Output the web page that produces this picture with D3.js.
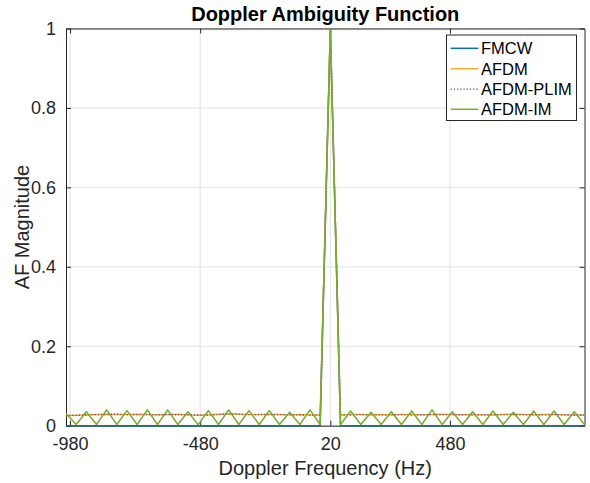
<!DOCTYPE html>
<html>
<head>
<meta charset="utf-8">
<script src="https://cdn.jsdelivr.net/npm/d3@7"></script>
<style>
  html, body { margin: 0; padding: 0; background: #fff; }
  svg { display: block; font-family: "Liberation Sans", Arial, Helvetica, sans-serif; }
</style>
</head>
<body>
<svg id="chart" width="590" height="483"></svg>
<script>
// ---------- data ----------
const dopplerHz = [
  -995.6, -956.6, -917.5, -878.4, -839.4, -800.3, -761.3, -722.2, -683.1, -644.1,
  -605.0, -565.9, -526.9, -487.8, -448.8, -409.7, -370.6, -331.6, -292.5, -253.4,
  -214.4, -175.3, -136.3, -97.2, -58.1, -19.1, 20.0, 59.1, 98.1, 137.2,
  176.3, 215.3, 254.4, 293.4, 332.5, 371.6, 410.6, 449.7, 488.8, 527.8,
  566.9, 605.9, 645.0, 684.1, 723.1, 762.2, 801.3, 840.3, 879.4, 918.4,
  957.5, 996.6
];
const fmcw = [
  0, 0, 0, 0, 0, 0, 0, 0, 0, 0,
  0, 0, 0, 0, 0, 0, 0, 0, 0, 0,
  0, 0, 0, 0, 0, 0, 1, 0, 0, 0,
  0, 0, 0, 0, 0, 0, 0, 0, 0, 0,
  0, 0, 0, 0, 0, 0, 0, 0, 0, 0,
  0, 0
];
const afdm = [
  0.025, 0.026, 0.027, 0.028, 0.029, 0.028, 0.028, 0.029, 0.028, 0.027,
  0.028, 0.029, 0.027, 0.026, 0.027, 0.029, 0.030, 0.029, 0.028, 0.028,
  0.029, 0.028, 0.027, 0.028, 0.027, 0.027, 1, 0.027, 0.028, 0.028,
  0.027, 0.028, 0.027, 0.028, 0.028, 0.027, 0.028, 0.029, 0.028, 0.027,
  0.028, 0.027, 0.027, 0.028, 0.029, 0.028, 0.027, 0.028, 0.028, 0.027,
  0.027, 0.026
];
const afdmPlim = [
  0.026, 0.026, 0.027, 0.028, 0.028, 0.029, 0.028, 0.028, 0.028, 0.028,
  0.028, 0.028, 0.028, 0.027, 0.027, 0.028, 0.029, 0.029, 0.028, 0.028,
  0.028, 0.028, 0.028, 0.027, 0.027, 0.027, 1, 0.027, 0.027, 0.028,
  0.028, 0.027, 0.028, 0.028, 0.027, 0.028, 0.028, 0.028, 0.028, 0.028,
  0.027, 0.028, 0.028, 0.028, 0.028, 0.028, 0.028, 0.027, 0.028, 0.028,
  0.027, 0.027
];
const afdmIm = [
  0.031, 0.003, 0.035, 0.003, 0.040, 0.003, 0.038, 0.003, 0.040, 0.003,
  0.040, 0.003, 0.035, 0.002, 0.038, 0.003, 0.040, 0.003, 0.038, 0.003,
  0.038, 0.003, 0.034, 0.003, 0.040, 0.003, 1, 0.003, 0.037, 0.003,
  0.034, 0.003, 0.035, 0.003, 0.037, 0.003, 0.040, 0.003, 0.035, 0.003,
  0.035, 0.003, 0.037, 0.003, 0.034, 0.003, 0.037, 0.003, 0.037, 0.003,
  0.035, 0.003
];
const seriesNames = ["FMCW", "AFDM", "AFDM-PLIM", "AFDM-IM"];
const seriesValues = [fmcw, afdm, afdmPlim, afdmIm];
const seriesColors = ["#0072BD", "#EDB120", "#7E2F8E", "#77AC30"];
const seriesDash = [null, null, "1.2,2", null];
const xTickValues = [-980, -480, 20, 480];
const xTickLabels = ["-980", "-480", "20", "480"];
const yTickValues = [0, 0.2, 0.4, 0.6, 0.8, 1];
const yTickLabels = ["0", "0.2", "0.4", "0.6", "0.8", "1"];
const titleText = "Doppler Ambiguity Function";
const xLabelText = "Doppler Frequency (Hz)";
const yLabelText = "AF Magnitude";

// ---------- layout ----------
const L = 66, R = 584.5, T = 28.5, B = 425.7;
const axisColor = "#262626";
const gridColor = "#e2e2e2";

const svg = d3.select("#chart");
const x = d3.scaleLinear().domain([dopplerHz[0], dopplerHz[dopplerHz.length - 1]]).range([L, R]);
const y = d3.scaleLinear().domain([0, 1]).range([B, T]);

// grid
const grid = svg.append("g");
grid.selectAll("line.gx").data(xTickValues).join("line")
  .attr("x1", d => x(d)).attr("x2", d => x(d)).attr("y1", T).attr("y2", B)
  .attr("stroke", gridColor).attr("stroke-width", 1);
grid.selectAll("line.gy").data(yTickValues).join("line")
  .attr("x1", L).attr("x2", R).attr("y1", d => y(d)).attr("y2", d => y(d))
  .attr("stroke", gridColor).attr("stroke-width", 1);

// axes
const tickLen = 5;
const xAxisB = d3.axisBottom(x).tickValues(xTickValues).tickSizeInner(-tickLen).tickSizeOuter(0).tickPadding(12)
  .tickFormat((d, i) => xTickLabels[i]);
const xAxisT = d3.axisTop(x).tickValues(xTickValues).tickSizeInner(-tickLen).tickSizeOuter(0).tickFormat("");
const yAxisL = d3.axisLeft(y).tickValues(yTickValues).tickSizeInner(-tickLen).tickSizeOuter(0).tickPadding(10)
  .tickFormat((d, i) => yTickLabels[i]);
const yAxisR = d3.axisRight(y).tickValues(yTickValues).tickSizeInner(-tickLen).tickSizeOuter(0).tickFormat("");

function styleAxis(g) {
  g.selectAll("path").attr("stroke", axisColor).attr("stroke-width", 1);
  g.selectAll("line").attr("stroke", axisColor).attr("stroke-width", 1);
  g.selectAll("text").attr("fill", axisColor).attr("font-size", 18)
    .attr("font-family", "'Liberation Sans', Arial, Helvetica, sans-serif");
}
svg.append("g").attr("transform", `translate(0,${B})`).call(xAxisB).call(styleAxis);
svg.append("g").attr("transform", `translate(0,${T})`).call(xAxisT).call(styleAxis);
svg.append("g").attr("transform", `translate(${L},0)`).call(yAxisL).call(styleAxis);
svg.append("g").attr("transform", `translate(${R},0)`).call(yAxisR).call(styleAxis);

// data lines
svg.append("clipPath").attr("id", "clip").append("rect")
  .attr("x", L).attr("y", T - 1).attr("width", R - L).attr("height", B - T + 2);
const line = d3.line().x(d => x(d[0])).y(d => y(d[1]));
const lines = svg.append("g").attr("clip-path", "url(#clip)");
seriesValues.forEach((vals, i) => {
  const pts = dopplerHz.map((f, j) => [f, vals[j]]);
  const p = lines.append("path").datum(pts)
    .attr("d", line).attr("fill", "none")
    .attr("stroke", seriesColors[i])
    .attr("stroke-width", i === 2 ? 1.3 : 1.5)
    .attr("stroke-linejoin", "round");
  if (seriesDash[i]) p.attr("stroke-dasharray", seriesDash[i]);
});

// title and labels
svg.append("text").attr("x", (L + R) / 2).attr("y", 21).attr("text-anchor", "middle")
  .attr("font-size", 20).attr("font-weight", "bold").attr("fill", "#000").text(titleText);
svg.append("text").attr("x", (L + R) / 2).attr("y", 474.5).attr("text-anchor", "middle")
  .attr("font-size", 20).attr("fill", axisColor).text(xLabelText);
svg.append("text").attr("transform", `translate(29,${(T + B) / 2}) rotate(-90)`).attr("text-anchor", "middle")
  .attr("font-size", 20).attr("fill", axisColor).text(yLabelText);

// legend
const lg = svg.append("g");
lg.append("rect").attr("x", 446.5).attr("y", 35).attr("width", 130).attr("height", 85.5)
  .attr("fill", "#fff").attr("stroke", axisColor).attr("stroke-width", 1);
const rowY = [48.3, 68.8, 89.1, 109.3];
seriesNames.forEach((name, i) => {
  const ln = lg.append("line").attr("x1", 450.7).attr("x2", 478.3).attr("y1", rowY[i]).attr("y2", rowY[i])
    .attr("stroke", seriesColors[i]).attr("stroke-width", i === 2 ? 1.3 : 1.5);
  if (seriesDash[i]) ln.attr("stroke-dasharray", seriesDash[i]);
  lg.append("text").attr("x", 481).attr("y", rowY[i]).attr("dy", "0.35em")
    .attr("font-size", 16.5).attr("fill", "#000").text(name);
});
</script>
</body>
</html>
